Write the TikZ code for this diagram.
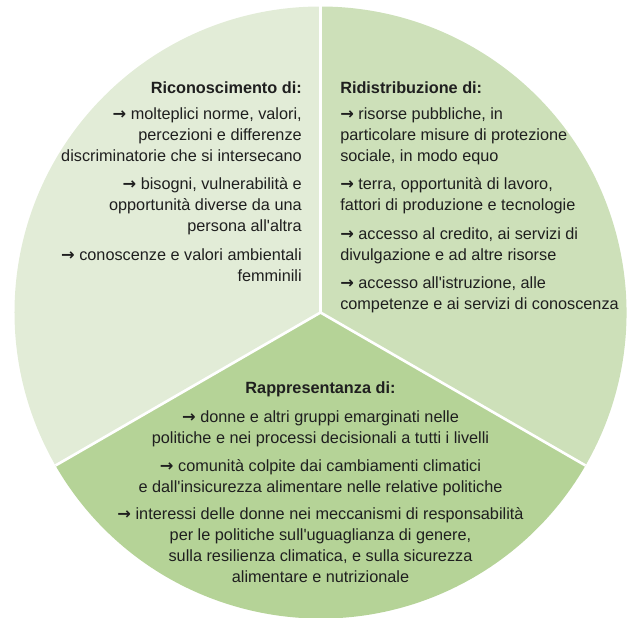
\documentclass[tikz,border=0pt]{standalone}
\usepackage{fontspec}
\setmainfont{Liberation Sans}
\newfontfamily\arrowfont{DejaVu Sans}
\definecolor{paleleaf}{RGB}{226,236,215}
\definecolor{midleaf}{RGB}{205,224,185}
\definecolor{darkleaf}{RGB}{181,211,151}
\tikzset{x=0.75pt, y=0.75pt}
\tikzset{
  divider/.style={draw=white, line width=2pt},
  block/.style={inner sep=0pt, font=\fontsize{12.2}{15.75}\selectfont, text=black!88}
}
\newcommand{\headline}[1]{\textbf{#1}}
\newcommand{\pointer}{{\arrowfont\bfseries →}}
\newcommand{\apos}{\textquotesingle}

\begin{document}
\begin{tikzpicture}
\useasboundingbox (-320.5,-305.5) rectangle (308.5,312.5);
\coordinate (mid) at (0,0);
\coordinate (top) at (90:306);
\coordinate (lowleft) at (210:306);
\coordinate (lowright) at (330:306);
% the three sectors
\fill[paleleaf] (mid) -- (top) arc[start angle=90, end angle=210, radius=306] -- cycle;
\fill[midleaf] (mid) -- (lowright) arc[start angle=-30, end angle=90, radius=306] -- cycle;
\fill[darkleaf] (mid) -- (lowleft) arc[start angle=210, end angle=330, radius=306] -- cycle;
\foreach \rim in {top,lowleft,lowright}
\draw[divider] (mid) -- (\rim);
% texts
\node[block, anchor=north east, align=right] (recog) at (-18.5,231) {%
\headline{Riconoscimento di:}\\[3.75pt]
\pointer{} molteplici norme, valori,\\
percezioni e differenze\\
discriminatorie che si intersecano\\[5.5pt]
\pointer{} bisogni, vulnerabilità e\\
opportunità diverse da una\\
persona all\apos altra\\[5.5pt]
\pointer{} conoscenze e valori ambientali\\
femminili};
\node[block, anchor=north west, align=left] (redist) at (19.5,231) {%
\headline{Ridistribuzione di:}\\[3.75pt]
\pointer{} risorse pubbliche, in\\
particolare misure di protezione\\
sociale, in modo equo\\[5.5pt]
\pointer{} terra, opportunità di lavoro,\\
fattori di produzione e tecnologie\\[5.5pt]
\pointer{} accesso al credito, ai servizi di\\
divulgazione e ad altre risorse\\[5.5pt]
\pointer{} accesso all\apos istruzione, alle\\
competenze e ai servizi di conoscenza};
\node[block, anchor=north, align=center] (repr) at (0,-69) {%
\headline{Rappresentanza di:}\\[6pt]
\pointer{} donne e altri gruppi emarginati nelle\\
politiche e nei processi decisionali a tutti i livelli\\[5pt]
\pointer{} comunità colpite dai cambiamenti climatici\\
e dall\apos insicurezza alimentare nelle relative politiche\\[5pt]
\pointer{} interessi delle donne nei meccanismi di responsabilità\\
per le politiche sull\apos uguaglianza di genere,\\
sulla resilienza climatica, e sulla sicurezza\\
alimentare e nutrizionale};
\end{tikzpicture}
\end{document}
